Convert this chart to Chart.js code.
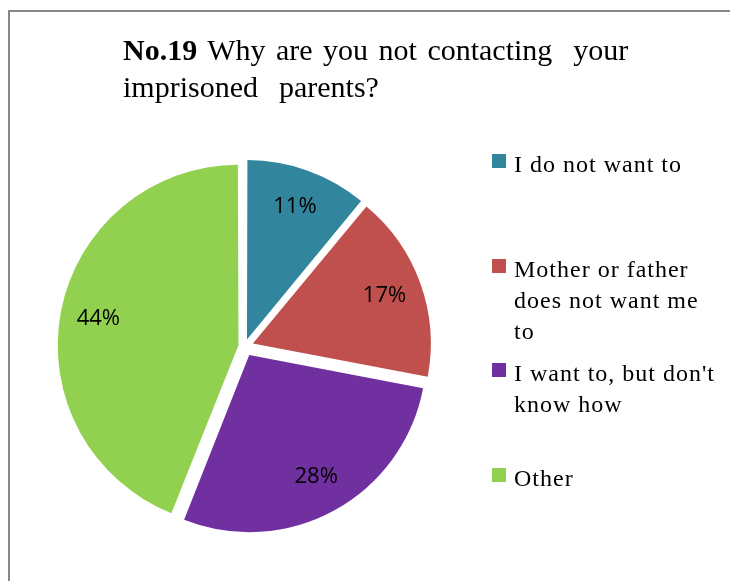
<!DOCTYPE html>
<html>
<head>
<meta charset="utf-8">
<script src="https://cdn.jsdelivr.net/npm/chart.js@4/dist/chart.umd.min.js"></script>
<style>
  html, body { margin: 0; padding: 0; background: #fff; overflow: hidden; }
  body { width: 730px; height: 581px; position: relative; }
  #frame { position: absolute; left: 8px; top: 10px; width: 800px; height: 700px;
           border: 2px solid #878787; box-sizing: border-box; }
  #pie { position: absolute; left: 0; top: 0; }
  #title { position: absolute; left: 123px; top: 31px; font-family: "Liberation Serif", "Times New Roman", serif;
           font-size: 30px; line-height: 37px; color: #000; white-space: pre; word-spacing: 3px; }
  #title b { font-weight: bold; }
  .leg { position: absolute; left: 492px; }
  .leg .sw { position: absolute; left: 0; top: 0; width: 14px; height: 14px; }
  .leg .tx { position: absolute; left: 22px; top: -5px; font-family: "Liberation Serif", "Times New Roman", serif;
             font-size: 24px; line-height: 31px; color: #000; white-space: pre; letter-spacing: 1px; }
</style>
</head>
<body>
<div id="frame"></div>
<canvas id="pie" width="730" height="581"></canvas>
<div id="title"><b>No.19</b> Why are you not contacting  your
imprisoned  parents?</div>
<div id="legend"></div>
<script>
// Answer categories (multi-line labels as shown in the legend)
const categories = [
  ['I do not want to'],
  ['Mother or father', 'does not want me', 'to'],
  ["I want to, but don't", 'know how'],
  ['Other']
];
// Share of respondents, percent
const shares = [11, 17, 28, 44];
const colors = ['#31859C', '#C0504D', '#7030A0', '#92D050'];

// Every slice is pulled out of the centre by the same distance.
const EXPLODE = 10;
const total = shares.reduce((a, b) => a + b, 0);
function sliceOffset(ctx) {
  const circ = (shares[ctx.dataIndex] / total) * Math.PI * 2;
  const fix = 1 - Math.sin(Math.min(Math.PI, circ));
  return EXPLODE / (0.25 * (1 + fix));
}

// Percent labels inside each slice
const percentLabels = {
  id: 'percentLabels',
  afterDatasetsDraw(chart) {
    const meta = chart.getDatasetMeta(0);
    const ctx = chart.ctx;
    ctx.save();
    ctx.font = '22px "Open Sans", "Noto Sans", sans-serif';
    ctx.fillStyle = '#000';
    ctx.textAlign = 'center';
    ctx.textBaseline = 'middle';
    meta.data.forEach((arc, i) => {
      const p = arc.getProps(['x', 'y', 'startAngle', 'endAngle', 'outerRadius'], true);
      const mid = (p.startAngle + p.endAngle) / 2;
      const d = EXPLODE + 0.785 * p.outerRadius;
      ctx.fillText(shares[i] + '%', p.x + Math.cos(mid) * d, p.y + Math.sin(mid) * d);
    });
    ctx.restore();
  }
};

new Chart(document.getElementById('pie'), {
  type: 'pie',
  data: {
    labels: categories,
    datasets: [{
      data: shares,
      backgroundColor: colors,
      borderWidth: 0,
      offset: sliceOffset,
      hoverOffset: 0
    }]
  },
  options: {
    responsive: false,
    devicePixelRatio: 1,
    animation: false,
    events: [],
    layout: { padding: { left: 48, right: 289, top: 150, bottom: 38 } },
    plugins: {
      legend: { display: false },
      tooltip: { enabled: false },
      title: { display: false }
    }
  },
  plugins: [percentLabels]
});

// Legend on the right, items evenly spaced
const legend = document.getElementById('legend');
categories.forEach((lines, i) => {
  const item = document.createElement('div');
  item.className = 'leg';
  item.style.top = (154 + i * 104.7) + 'px';
  const sw = document.createElement('div');
  sw.className = 'sw';
  sw.style.background = colors[i];
  const tx = document.createElement('div');
  tx.className = 'tx';
  tx.textContent = lines.join('\n');
  item.appendChild(sw);
  item.appendChild(tx);
  legend.appendChild(item);
});
</script>
</body>
</html>
